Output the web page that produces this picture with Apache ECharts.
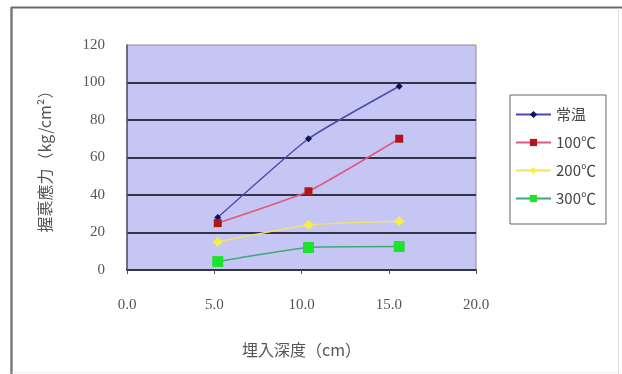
<!DOCTYPE html>
<html>
<head>
<meta charset="utf-8">
<script src="https://cdn.jsdelivr.net/npm/echarts@6/dist/echarts.min.js"></script>
<style>
html,body{margin:0;padding:0;background:#fff;}
#c{width:622px;height:374px;}
</style>
</head>
<body>
<div id="c"></div>
<script>
var seriesNames = ['常温', '100℃', '200℃', '300℃'];
var depthX = [5.2, 10.4, 15.6];
var valsNormal = [28, 70, 98];
var vals100 = [25, 42, 70];
var vals200 = [15, 24, 26];
var vals300 = [4.5, 12, 12.5];
var xTitle = '埋入深度（cm）';
var yTitle = '握裹應力（kg/cm²）';

function pairs(xs, ys) { return xs.map(function (x, i) { return [x, ys[i]]; }); }

var chart = echarts.init(document.getElementById('c'), null, {renderer: 'canvas'});
var labelFont = {color: '#555', fontFamily: 'Liberation Serif', fontSize: 15};
var cjkFont = 'Noto Sans CJK TC';

var styles = [
  {line: '#4a4ab0', mark: '#10105a', symbol: 'diamond', size: 7},
  {line: '#e05a80', mark: '#b01818', symbol: 'rect', size: 8},
  {line: '#f0e070', mark: '#f4f040', symbol: 'diamond', size: 10},
  {line: '#40a878', mark: '#20e030', symbol: 'rect', size: 11}
];
var data = [valsNormal, vals100, vals200, vals300];

chart.setOption({
  backgroundColor: '#ffffff',
  animation: false,
  grid: {left: 127, top: 45, width: 349, height: 225, show: true,
         backgroundColor: '#c6c6f5', borderColor: '#8a8a9a', borderWidth: 1},
  xAxis: {
    type: 'value', min: 0, max: 20, interval: 5,
    axisLine: {show: true, lineStyle: {color: '#333344', width: 2}},
    axisTick: {show: true, length: 4, lineStyle: {color: '#555'}},
    splitLine: {show: false},
    axisLabel: Object.assign({margin: 28, formatter: function (v) { return v.toFixed(1); }}, labelFont),
    name: xTitle, nameLocation: 'middle', nameGap: 72,
    nameTextStyle: {color: '#555', fontFamily: cjkFont, fontSize: 16}
  },
  yAxis: {
    type: 'value', min: 0, max: 120, interval: 20,
    axisLine: {show: true, lineStyle: {color: '#555566', width: 1.5}},
    axisTick: {show: false},
    splitLine: {show: true, showMaxLine: false, lineStyle: {color: '#33334a', width: 2}},
    axisLabel: Object.assign({margin: 22}, labelFont),
    name: yTitle, nameLocation: 'middle', nameGap: 74,
    nameTextStyle: {color: '#555', fontFamily: cjkFont, fontSize: 16}
  },
  legend: {
    left: 510, top: 95, orient: 'vertical',
    width: 102,
    backgroundColor: '#ffffff',
    borderColor: '#666', borderWidth: 1,
    padding: [12, 10, 18, 5],
    itemWidth: 35, itemHeight: 9, itemGap: 13,
    textStyle: {color: '#444', fontFamily: cjkFont, fontSize: 15},
    data: seriesNames
  },
  series: seriesNames.map(function (n, i) {
    return {
      name: n, type: 'line', smooth: 0.15,
      data: pairs(depthX, data[i]),
      symbol: styles[i].symbol, symbolSize: styles[i].size,
      lineStyle: {color: styles[i].line, width: 1.5},
      itemStyle: {color: styles[i].mark}
    };
  }),
  graphic: [
    {type: 'line', shape: {x1: 11, y1: 7.5, x2: 622, y2: 7.5}, style: {stroke: '#6a6a6a', lineWidth: 2}},
    {type: 'line', shape: {x1: 11.5, y1: 7, x2: 11.5, y2: 374}, style: {stroke: '#7a7a7a', lineWidth: 2.5}},
    {type: 'line', shape: {x1: 618.5, y1: 8, x2: 618.5, y2: 374}, style: {stroke: '#e0e0e0', lineWidth: 1}},
    {type: 'line', shape: {x1: 12, y1: 372.5, x2: 618, y2: 372.5}, style: {stroke: '#eeeeee', lineWidth: 1}}
  ]
});
</script>
</body>
</html>
